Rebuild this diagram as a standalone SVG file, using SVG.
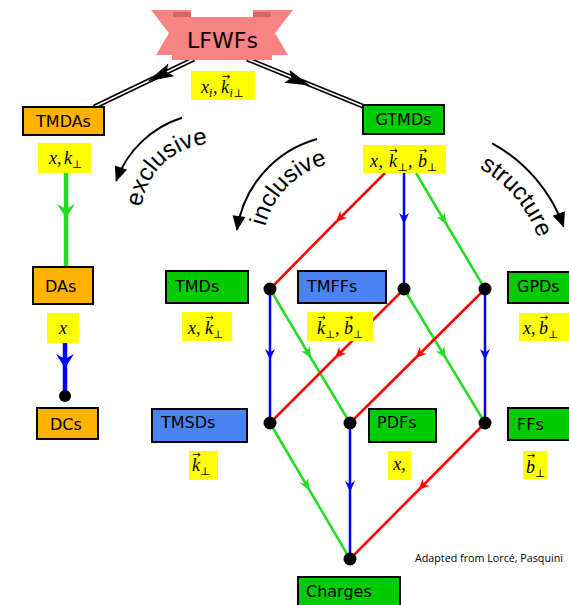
<svg xmlns="http://www.w3.org/2000/svg" width="569" height="605" viewBox="0 0 569 605">
<style>
.box{stroke:#000;stroke-width:2}
.org{fill:#ffb300}
.grn{fill:#00cc00}
.blu{fill:#4a84f2}
.yel{fill:#ffff00}
.t{font-family:"DejaVu Sans",sans-serif;font-size:16px;fill:#000}
.m{font-family:"Liberation Serif","DejaVu Serif",serif;font-size:18px;font-style:italic;fill:#000}
.s{font-family:"DejaVu Serif",serif;font-size:11px;font-style:normal}
.si{font-size:12px}
.v{font-family:"DejaVu Sans",sans-serif;font-size:10px;text-anchor:middle;fill:#000}
.arc{font-family:"Liberation Sans",Arial,sans-serif;font-size:24px;fill:#000}
.lr{stroke:#ff0000;stroke-width:2.5;fill:none}
.lg{stroke:#22dd22;stroke-width:2.5;fill:none}
.lb{stroke:#0000ff;stroke-width:2.5;fill:none}
.dot{fill:#000}
</style>
<defs>
<marker id="mr" viewBox="-12 -6 14 12" refX="0" refY="0" markerWidth="14" markerHeight="12" orient="auto" markerUnits="userSpaceOnUse"><path d="M0,0 L-11,-5 L-7.5,0 L-11,5 Z" fill="#ff0000"/></marker>
<marker id="mg" viewBox="-12 -6 14 12" refX="0" refY="0" markerWidth="14" markerHeight="12" orient="auto" markerUnits="userSpaceOnUse"><path d="M0,0 L-11,-5 L-7.5,0 L-11,5 Z" fill="#22dd22"/></marker>
<marker id="mb" viewBox="-12 -6 14 12" refX="0" refY="0" markerWidth="14" markerHeight="12" orient="auto" markerUnits="userSpaceOnUse"><path d="M0,0 L-11,-5 L-7.5,0 L-11,5 Z" fill="#0000ff"/></marker>
<marker id="mgB" viewBox="-16 -10 18 20" refX="0" refY="0" markerWidth="18" markerHeight="20" orient="auto" markerUnits="userSpaceOnUse"><path d="M0,0 L-14,-9 L-9,0 L-14,9 Z" fill="#22dd22"/></marker>
<marker id="mbB" viewBox="-16 -10 18 20" refX="0" refY="0" markerWidth="18" markerHeight="20" orient="auto" markerUnits="userSpaceOnUse"><path d="M0,0 L-14,-9 L-9,0 L-14,9 Z" fill="#0000ff"/></marker>
<marker id="mk" viewBox="-16 -7 18 14" refX="0" refY="0" markerWidth="18" markerHeight="14" orient="auto" markerUnits="userSpaceOnUse"><path d="M1,0 L-14,-6.5 L-14,6.5 Z" fill="#000"/></marker>
<path id="pex" d="M142.1,228.5 A72,72 0 0 1 229.2,145.8"/>
<path id="pin" d="M265.9,267.7 A84,84 0 0 1 368.7,164.9"/>
<path id="pst" d="M417,152 A128,128 0 0 1 543.1,302.2"/>
</defs>
<rect width="569" height="605" fill="#fff"/>

<g id="connectors">
  <path d="M194,59 L94,107" stroke="#000" stroke-width="5" fill="none"/>
  <path d="M194,59 L94,107" stroke="#fff" stroke-width="1.6" fill="none"/>
  <polygon points="147.8,81.2 174.3,76.2 166.7,72.1 168.3,63.6" fill="#000"/>
  <path d="M247,59 L365,107" stroke="#000" stroke-width="5" fill="none"/>
  <path d="M247,59 L365,107" stroke="#fff" stroke-width="1.6" fill="none"/>
  <polygon points="310,85.6 284.2,82.7 291.4,78.1 289.4,69.7" fill="#000"/>
  <path d="M66,173 L66,218 L66,267" stroke="#22dd22" stroke-width="4.5" fill="none" marker-mid="url(#mgB)"/>
  <path d="M65,343 L65,368 L65,396" stroke="#0000ff" stroke-width="4.5" fill="none" marker-mid="url(#mbB)"/>
  <path class="lr" d="M385,173 L336,222 L270,289" marker-mid="url(#mr)"/>
  <path class="lb" d="M404,173 L404,224 L404,289" marker-mid="url(#mb)"/>
  <path class="lg" d="M416,173 L446.3,224 L485,289" marker-mid="url(#mg)"/>
  <path class="lb" d="M270,289 L270,360 L270,423" marker-mid="url(#mb)"/>
  <path class="lg" d="M270,289 L311,358 L350,423" marker-mid="url(#mg)"/>
  <path class="lr" d="M404,289 L335,358 L270,423" marker-mid="url(#mr)"/>
  <path class="lg" d="M404,289 L445.7,358 L485,423" marker-mid="url(#mg)"/>
  <path class="lr" d="M485,289 L415.5,358 L350,423" marker-mid="url(#mr)"/>
  <path class="lb" d="M485,289 L485,360 L485,423" marker-mid="url(#mb)"/>
  <path class="lg" d="M270,423 L309.4,490 L350,559" marker-mid="url(#mg)"/>
  <path class="lb" d="M350,423 L350,492 L350,559" marker-mid="url(#mb)"/>
  <path class="lr" d="M485,423 L418.5,490 L350,559" marker-mid="url(#mr)"/>
  <circle class="dot" cx="65" cy="396" r="6"/>
  <circle class="dot" cx="270" cy="289" r="6.5"/>
  <circle class="dot" cx="404" cy="289" r="6.5"/>
  <circle class="dot" cx="485" cy="289" r="6.5"/>
  <circle class="dot" cx="270" cy="423" r="6.5"/>
  <circle class="dot" cx="350" cy="423" r="6.5"/>
  <circle class="dot" cx="485" cy="423" r="6.5"/>
  <circle class="dot" cx="350" cy="559" r="6.5"/>
  <path d="M182,117.8 A103,103 0 0 0 116.2,180.8" stroke="#000" stroke-width="2" fill="none" marker-end="url(#mk)"/>
  <path d="M317,139 A111,111 0 0 0 237,230" stroke="#000" stroke-width="2" fill="none" marker-end="url(#mk)"/>
  <path d="M492.2,143.3 A156,156 0 0 1 563.6,226.6" stroke="#000" stroke-width="2" fill="none" marker-end="url(#mk)"/>
</g>

<g id="LFWFs">
  <polygon points="151,10 191,10 191,55 156,55 169,33" fill="#f98383"/>
  <polygon points="293,10 253,10 253,55 288,55 275,33" fill="#f98383"/>
  <rect x="173" y="12" width="18" height="6" rx="2" fill="#d76565"/>
  <rect x="253" y="12" width="18" height="6" rx="2" fill="#d76565"/>
  <rect x="172" y="17" width="100" height="43" fill="#f98383"/>
  <text x="222.5" y="48" text-anchor="middle" font-family="DejaVu Sans, sans-serif" font-size="22">LFWFs</text>
  <rect class="yel" x="191" y="71" width="64" height="29"/>
  <text class="m" y="93"><tspan x="201">x</tspan><tspan class="si" x="209" y="97">i</tspan><tspan x="213" y="93">,</tspan><tspan x="221">k</tspan><tspan class="si" x="229.5" y="97">i</tspan><tspan class="s" x="233.5" y="97">⊥</tspan></text>
  <text class="v" x="226" y="80">→</text>
</g>

<g id="TMDAs">
  <rect class="box org" x="23" y="107" width="81" height="28"/>
  <text class="t" x="63.5" y="127" text-anchor="middle">TMDAs</text>
  <rect class="yel" x="38" y="143" width="53" height="30"/>
  <text class="m" y="164"><tspan x="49">x</tspan><tspan x="57">,</tspan><tspan x="64">k</tspan><tspan class="s" x="72" y="168">⊥</tspan></text>
</g>

<g id="DAs">
  <rect class="box org" x="33" y="267" width="60" height="37"/>
  <text class="t" x="45" y="292">DAs</text>
  <rect class="yel" x="47" y="313" width="32" height="30"/>
  <text class="m" x="63" y="334" text-anchor="middle">x</text>
</g>

<g id="DCs">
  <rect class="box org" x="37" y="408" width="61" height="31"/>
  <text class="t" x="50" y="430">DCs</text>
</g>

<g id="GTMDs">
  <rect class="box grn" x="363" y="105" width="81" height="29"/>
  <text class="t" x="403.5" y="125" text-anchor="middle">GTMDs</text>
  <rect class="yel" x="363" y="145" width="83" height="28"/>
  <text class="m" y="167"><tspan x="370">x</tspan><tspan x="378.5">,</tspan><tspan x="389">k</tspan><tspan class="s" x="397.5" y="171">⊥</tspan><tspan x="408" y="167">,</tspan><tspan x="418">b</tspan><tspan class="s" x="427" y="171">⊥</tspan></text>
  <text class="v" x="393.5" y="154">→</text>
  <text class="v" x="423" y="154">→</text>
</g>

<g id="TMDs">
  <rect class="box grn" x="166" y="271" width="82" height="32"/>
  <text class="t" x="175" y="292">TMDs</text>
  <rect class="yel" x="182" y="312" width="50" height="29"/>
  <text class="m" y="334"><tspan x="188">x</tspan><tspan x="196">,</tspan><tspan x="205">k</tspan><tspan class="s" x="213" y="338">⊥</tspan></text>
  <text class="v" x="209.5" y="321">→</text>
</g>

<g id="TMFFs">
  <rect class="box blu" x="298" y="271" width="88" height="32"/>
  <text class="t" x="307" y="292">TMFFs</text>
  <rect class="yel" x="307" y="312" width="66" height="29"/>
  <text class="m" y="334"><tspan x="317">k</tspan><tspan class="s" x="325" y="338">⊥</tspan><tspan x="335" y="334">,</tspan><tspan x="344">b</tspan><tspan class="s" x="353" y="338">⊥</tspan></text>
  <text class="v" x="321.5" y="321">→</text>
  <text class="v" x="349" y="321">→</text>
</g>

<g id="GPDs">
  <rect class="box grn" x="508" y="272" width="70" height="31"/>
  <text class="t" x="517" y="292">GPDs</text>
  <rect class="yel" x="519" y="313" width="55" height="28"/>
  <text class="m" y="334"><tspan x="523">x</tspan><tspan x="531">,</tspan><tspan x="539">b</tspan><tspan class="s" x="548" y="338">⊥</tspan></text>
  <text class="v" x="544" y="321">→</text>
</g>

<g id="TMSDs">
  <rect class="box blu" x="152" y="409" width="95" height="33"/>
  <text class="t" x="161" y="428">TMSDs</text>
  <rect class="yel" x="189" y="451" width="29" height="29"/>
  <text class="m" y="471"><tspan x="192">k</tspan><tspan class="s" x="200" y="475">⊥</tspan></text>
  <text class="v" x="196.5" y="458">→</text>
</g>

<g id="PDFs">
  <rect class="box grn" x="369" y="409" width="67" height="33"/>
  <text class="t" x="377" y="428">PDFs</text>
  <rect class="yel" x="388" y="451" width="23" height="29"/>
  <text class="m" x="399.5" y="470" text-anchor="middle">x,</text>
</g>

<g id="FFs">
  <rect class="box grn" x="508" y="408" width="70" height="32"/>
  <text class="t" x="517" y="430">FFs</text>
  <rect class="yel" x="523" y="451" width="24" height="28"/>
  <text class="m" y="473"><tspan x="526">b</tspan><tspan class="s" x="535" y="477">⊥</tspan></text>
  <text class="v" x="531" y="459">→</text>
</g>

<g id="Charges">
  <rect class="box grn" x="298" y="577" width="102" height="35"/>
  <text class="t" x="306" y="597">Charges</text>
</g>

<g id="labels">
  <text class="arc"><textPath href="#pex" startOffset="50%" text-anchor="middle">exclusive</textPath></text>
  <text class="arc"><textPath href="#pin" startOffset="50%" text-anchor="middle">inclusive</textPath></text>
  <text class="arc"><textPath href="#pst" startOffset="50%" text-anchor="middle">structure</textPath></text>
  <text x="415" y="562" font-family="Open Sans, sans-serif" font-size="11" textLength="148" lengthAdjust="spacingAndGlyphs">Adapted from Lorcé, Pasquini</text>
</g>
</svg>
